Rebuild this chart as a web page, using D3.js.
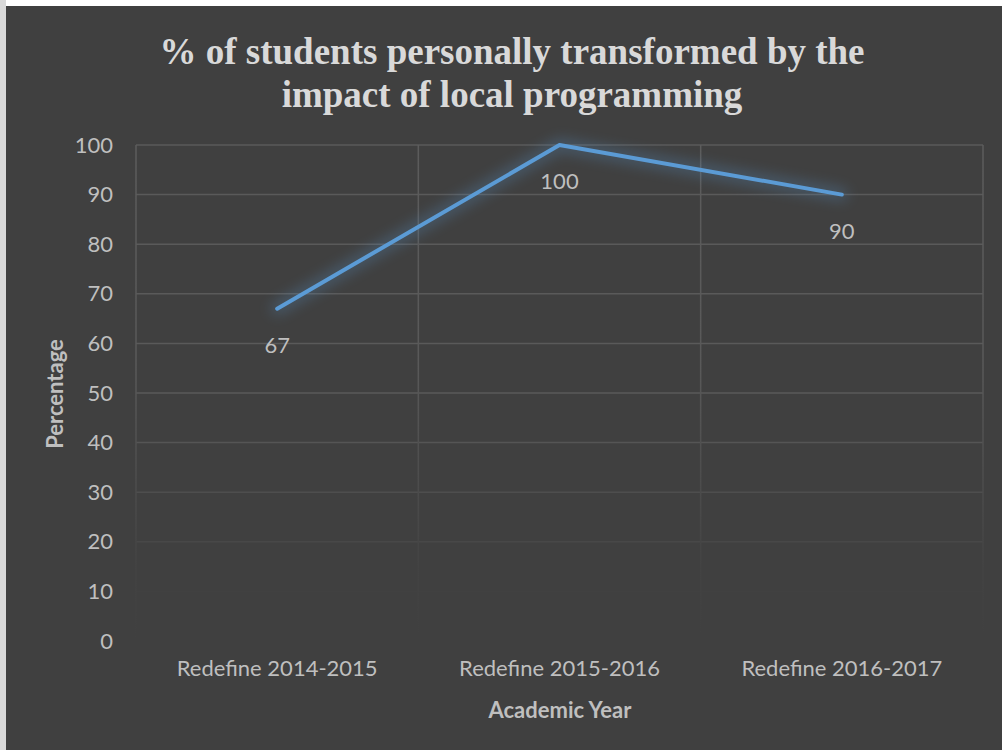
<!DOCTYPE html>
<html><head><meta charset="utf-8">
<script src="https://cdn.jsdelivr.net/npm/d3@7"></script>
<style>html,body{margin:0;padding:0;background:#fff;}svg{display:block;}</style>
</head><body>
<script>
const categories = ["Redefine 2014-2015", "Redefine 2015-2016", "Redefine 2016-2017"];
const values = [67, 100, 90];
const yTicks = [0, 10, 20, 30, 40, 50, 60, 70, 80, 90, 100];
const titleLines = ["% of students personally transformed by the", "impact of local programming"];
const yTitle = "Percentage";
const xTitle = "Academic Year";

const W = 1002, H = 750;
const FONT = "Lato, 'Open Sans', sans-serif";
const svg = d3.select("body").append("svg").attr("width", W).attr("height", H);
const defs = svg.append("defs");

// background
svg.append("rect").attr("x", 0).attr("y", 0).attr("width", 6).attr("height", H).attr("fill", "#d9d9d9");
svg.append("rect").attr("x", 6).attr("y", 6).attr("width", W - 6).attr("height", H - 6).attr("fill", "#404040");

const plot = {left: 136, right: 983, top: 145, bottom: 641};
const x = d3.scaleBand().domain(categories).range([plot.left, plot.right]);
const y = d3.scaleLinear().domain([0, 100]).range([plot.bottom, plot.top]);

// fading gradient for vertical gridlines
const grad = defs.append("linearGradient").attr("id", "fade").attr("gradientUnits", "userSpaceOnUse")
  .attr("x1", 0).attr("y1", plot.top).attr("x2", 0).attr("y2", plot.bottom);
grad.append("stop").attr("offset", 0).attr("stop-color", "#5c5c5c");
grad.append("stop").attr("offset", 0.45).attr("stop-color", "#595959");
grad.append("stop").attr("offset", 0.85).attr("stop-color", "#434343");
grad.append("stop").attr("offset", 1).attr("stop-color", "#404040");

const grid = svg.append("g");
grid.selectAll("line.h").data(yTicks.filter(d => d > 0)).join("line")
  .attr("x1", plot.left).attr("x2", plot.right)
  .attr("y1", d => y(d)).attr("y2", d => y(d))
  .attr("stroke", d => d3.interpolateRgb("#404040", "#5a5a5a")(Math.min(1, Math.max(0, (d - 8) / 40))))
  .attr("stroke-width", 1.5);
const vx = categories.map(c => x(c)).concat([x(categories[categories.length - 1]) + x.bandwidth()]);
grid.selectAll("line.v").data(vx).join("line")
  .attr("x1", d => d).attr("x2", d => d)
  .attr("y1", plot.top).attr("y2", plot.bottom)
  .attr("stroke", "url(#fade)").attr("stroke-width", 1.5);

// y axis
const yAxis = d3.axisLeft(y).tickValues(yTicks).tickSize(0).tickPadding(0);
const yg = svg.append("g").attr("transform", `translate(${plot.left - 23},0)`).call(yAxis);
yg.select(".domain").remove();
yg.selectAll("text").attr("fill", "#bfbfbf").style("font-family", FONT).style("font-size", "22px");

// x axis
const xAxis = d3.axisBottom(x).tickSize(0).tickPadding(0);
const xg = svg.append("g").attr("transform", `translate(0,${plot.bottom + 19})`).call(xAxis);
xg.select(".domain").remove();
xg.selectAll("text").attr("fill", "#bfbfbf").style("font-family", FONT).style("font-size", "22px");

// glow filter
const f = defs.append("filter").attr("id", "glow").attr("x", "-20%").attr("y", "-50%").attr("width", "140%").attr("height", "200%");
f.append("feGaussianBlur").attr("in", "SourceGraphic").attr("stdDeviation", 7).attr("result", "b");
f.append("feComponentTransfer").attr("in", "b").attr("result", "b2")
  .append("feFuncA").attr("type", "linear").attr("slope", 0.5);

const line = d3.line().x((d, i) => x(categories[i]) + x.bandwidth() / 2).y(d => y(d));
svg.append("path").datum(values).attr("d", line).attr("fill", "none")
  .attr("stroke", "#5b9bd5").attr("stroke-width", 12).attr("stroke-linejoin", "round").attr("stroke-linecap", "round")
  .attr("filter", "url(#glow)").attr("opacity", 0.6);
svg.append("path").datum(values).attr("d", line).attr("fill", "none")
  .attr("stroke", "#5b9bd5").attr("stroke-width", 4).attr("stroke-linejoin", "round").attr("stroke-linecap", "round");

// data labels
svg.append("g").selectAll("text").data(values).join("text")
  .attr("x", (d, i) => x(categories[i]) + x.bandwidth() / 2)
  .attr("y", d => y(d) + 44)
  .attr("text-anchor", "middle")
  .attr("fill", "#bfbfbf").style("font-family", FONT).style("font-size", "22px")
  .text(d => d);

// title
svg.append("text").attr("text-anchor", "middle").attr("fill", "#d9d9d9")
  .style("font-family", "'Liberation Serif', 'Times New Roman', serif").style("font-weight", "bold").style("font-size", "37px")
  .selectAll("tspan").data(titleLines).join("tspan")
  .attr("x", 512).attr("y", (d, i) => 64 + i * 43).text(d => d);

// axis titles
svg.append("text").attr("transform", `translate(63,394) rotate(-90)`).attr("text-anchor", "middle")
  .attr("fill", "#bfbfbf").style("font-family", FONT).style("font-weight", "bold").style("font-size", "22px")
  .text(yTitle);
svg.append("text").attr("x", 560).attr("y", 718).attr("text-anchor", "middle")
  .attr("fill", "#bfbfbf").style("font-family", FONT).style("font-weight", "bold").style("font-size", "22px")
  .text(xTitle);
</script>
</body></html>
